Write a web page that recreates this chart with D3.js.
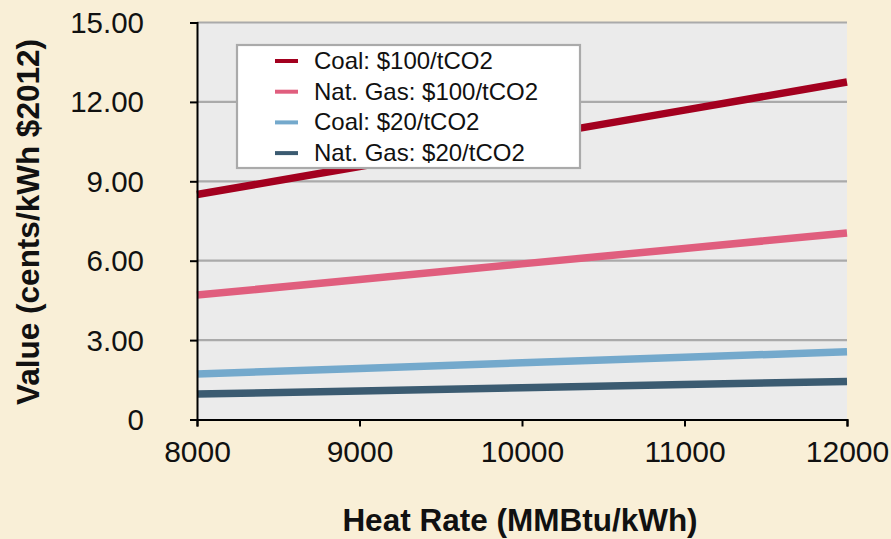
<!DOCTYPE html>
<html lang="en">
<head>
    <meta charset="utf-8">
    <title>Value vs heat rate</title>
    <script type="text/javascript" src="https://d3js.org/d3.v7.min.js"></script>
    <style type="text/css">
        body { margin: 0; background: #f9efd7; }
        svg { font-family: "Liberation Sans", Arial, sans-serif; display: block; }
    </style>
</head>
<body>
<script type="text/javascript">

    // data
    var heatRates = [8000, 9000, 10000, 11000, 12000];
    var coal100 = [8.50, 9.56, 10.63, 11.69, 12.75];
    var gas100 = [4.70, 5.29, 5.88, 6.46, 7.05];
    var coal20 = [1.72, 1.93, 2.14, 2.35, 2.56];
    var gas20 = [0.96, 1.08, 1.20, 1.32, 1.44];

    var seriesNames = ["Coal: $100/tCO2", "Nat. Gas: $100/tCO2", "Coal: $20/tCO2", "Nat. Gas: $20/tCO2"];
    var seriesColors = ["#a3001f", "#e05e7e", "#74a9cc", "#3b5b71"];
    var seriesValues = [coal100, gas100, coal20, gas20];

    var xTicks = [8000, 9000, 10000, 11000, 12000];
    var yTicks = [0, 3, 6, 9, 12, 15];

    var width = 891, height = 539;
    var x = d3.scaleLinear().domain([8000, 12000]).range([197, 847]);
    var y = d3.scaleLinear().domain([0, 15]).range([419.5, 22.5]);

    var svg = d3.select("body")
        .append("svg")
        .attr("width", width)
        .attr("height", height);

    svg.append("rect")
        .attr("width", width)
        .attr("height", height)
        .attr("fill", "#f9efd7");

    // plot background
    svg.append("rect")
        .attr("x", x(8000))
        .attr("y", y(15))
        .attr("width", x(12000) - x(8000))
        .attr("height", y(0) - y(15))
        .attr("fill", "#ebebeb");

    // gridlines
    svg.append("g")
        .selectAll("line")
        .data(yTicks.filter(function(d) { return d > 0; }))
        .enter()
        .append("line")
        .attr("x1", x(8000))
        .attr("x2", x(12000))
        .attr("y1", function(d) { return y(d); })
        .attr("y2", function(d) { return y(d); })
        .attr("stroke", "#aaaaaa")
        .attr("stroke-width", 2.2);

    // series lines
    var line = d3.line()
        .x(function(d, i) { return x(heatRates[i]); })
        .y(function(d) { return y(d); });

    svg.append("g")
        .selectAll("path")
        .data(seriesValues)
        .enter()
        .append("path")
        .attr("d", line)
        .attr("fill", "none")
        .attr("stroke", function(d, i) { return seriesColors[i]; })
        .attr("stroke-width", 7.5);

    // axes
    var yAxis = d3.axisLeft(y)
        .tickValues(yTicks)
        .tickSize(7)
        .tickPadding(46)
        .tickFormat(function(d) { return d === 0 ? "0" : d3.format(".2f")(d); });

    var gy = svg.append("g")
        .attr("transform", "translate(" + x(8000) + ",0)")
        .call(yAxis);

    var xAxis = d3.axisBottom(x)
        .tickValues(xTicks)
        .tickSize(7)
        .tickPadding(14)
        .tickFormat(d3.format("d"));

    var gx = svg.append("g")
        .attr("transform", "translate(0," + y(0) + ")")
        .call(xAxis);

    [gx, gy].forEach(function(g) {
        g.select(".domain").attr("stroke", "#000").attr("stroke-width", 2);
        g.selectAll(".tick line").attr("stroke", "#000").attr("stroke-width", 2);
        g.selectAll(".tick text")
            .attr("fill", "#111")
            .attr("font-family", "Liberation Sans, Arial, sans-serif");
    });
    gy.selectAll(".tick text").attr("font-size", 29.5).attr("dy", "0.34em");
    gx.selectAll(".tick text").attr("font-size", 30).attr("dy", "0.71em");

    // axis titles
    svg.append("text")
        .attr("x", 520)
        .attr("y", 531)
        .attr("text-anchor", "middle")
        .attr("font-size", 31.5)
        .attr("font-weight", "bold")
        .attr("fill", "#111")
        .text("Heat Rate (MMBtu/kWh)");

    svg.append("text")
        .attr("transform", "translate(39,222) rotate(-90)")
        .attr("text-anchor", "middle")
        .attr("font-size", 31.5)
        .attr("font-weight", "bold")
        .attr("fill", "#111")
        .text("Value (cents/kWh $2012)");

    // legend
    var legend = svg.append("g");
    legend.append("rect")
        .attr("x", 237)
        .attr("y", 45)
        .attr("width", 343)
        .attr("height", 123)
        .attr("fill", "#fff")
        .attr("stroke", "#aaaaaa")
        .attr("stroke-width", 2.2);

    var item = legend.selectAll(".item")
        .data(seriesNames)
        .enter()
        .append("g")
        .attr("class", "item")
        .attr("transform", function(d, i) { return "translate(0," + (61 + i * 30.7) + ")"; });

    item.append("line")
        .attr("x1", 275)
        .attr("x2", 298)
        .attr("stroke", function(d, i) { return seriesColors[i]; })
        .attr("stroke-width", 4);

    item.append("text")
        .attr("x", 314)
        .attr("y", 7.8)
        .attr("font-size", 24)
        .attr("fill", "#111")
        .text(function(d) { return d; });

</script>
</body>
</html>
